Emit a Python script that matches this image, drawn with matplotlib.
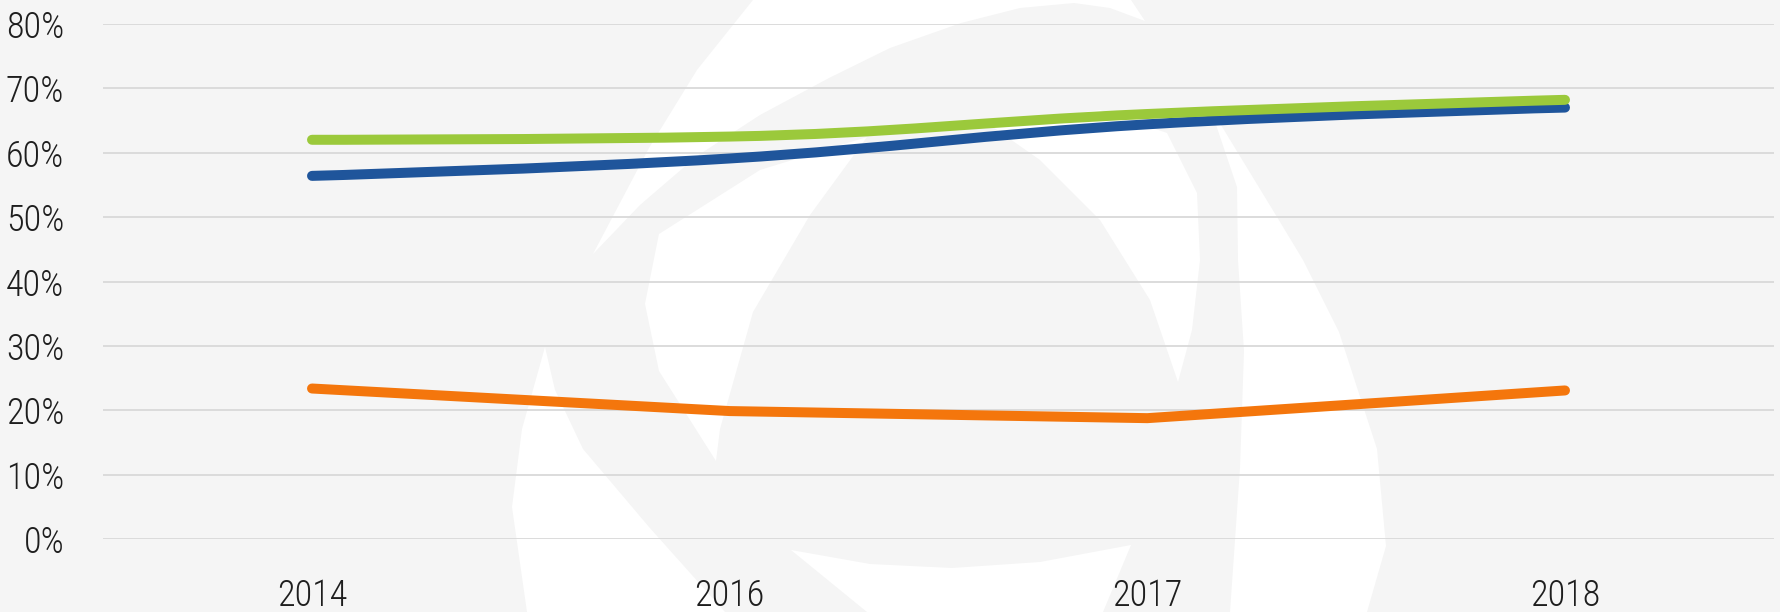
import matplotlib
matplotlib.use('Agg')
import matplotlib.pyplot as plt
from matplotlib.path import Path
from matplotlib.patches import PathPatch, Polygon
from matplotlib import font_manager
import numpy as np

years = ['2014', '2016', '2017', '2018']
green_vals = [62.0, 62.5, 66.0, 68.2]
blue_vals = [56.4, 59.1, 64.4, 67.0]
orange_vals = [23.4, 19.9, 18.8, 23.1]
y_ticks = [0, 10, 20, 30, 40, 50, 60, 70, 80]

BG = '#f5f5f5'

# white watermark blades, figure pixels (y down) of the 1781x612 canvas
WATERMARK = [
    [(753, 0), (1131, 0), (1145, 21), (1110, 8), (1074, 3), (1020, 8), (961, 23),
     (890, 48), (829, 78), (760, 115), (697, 156), (640, 205), (593, 254),
     (649, 148), (697, 70)],
    [(545, 347), (555, 390), (583, 449), (649, 527), (725, 612), (527, 612),
     (512, 507), (522, 429)],
    [(659, 234), (760, 170), (867, 137), (810, 215), (753, 312), (720, 429),
     (716, 461), (659, 371), (645, 304)],
    [(791, 550), (870, 564), (952, 568), (1040, 562), (1131, 545), (1103, 612),
     (867, 612)],
    [(1100, 110), (1167, 133), (1197, 193), (1200, 260), (1192, 330), (1178, 382),
     (1150, 300), (1100, 220), (1040, 160), (990, 125)],
    [(1210, 107), (1237, 187), (1238, 260), (1244, 351), (1240, 468), (1230, 612),
     (1367, 612), (1386, 546), (1377, 449), (1339, 332), (1303, 260), (1277, 217)],
]


def pick_condensed():
    # look for a narrow upright sans font file among the installed ones
    files = [f for f in font_manager.findSystemFonts() if 'Italic' not in f]
    for key in ['NotoSans-CondensedLight.', 'NotoSans-Condensed-Light.', 'OpenSansCondensed-Light.',
                'RobotoCondensed-Light.', 'LiberationSansNarrow-Regular.', 'RobotoCondensed-Regular.',
                'NotoSans-Condensed.', 'NotoSans-Condensed-Regular.', 'DejaVuSansCondensed.']:
        for f in files:
            if f.split('/')[-1].startswith(key):
                return font_manager.FontProperties(fname=f)
    return None


def spline_path(xs, ys, smoothing=1.5):
    # bezier control points like a highcharts "spline" series
    n = len(xs)
    denom = smoothing + 1
    left = [(xs[i], ys[i]) for i in range(n)]
    right = [(xs[i], ys[i]) for i in range(n)]
    for i in range(1, n - 1):
        lx = (smoothing * xs[i] + xs[i - 1]) / denom
        ly = (smoothing * ys[i] + ys[i - 1]) / denom
        rx = (smoothing * xs[i] + xs[i + 1]) / denom
        ry = (smoothing * ys[i] + ys[i + 1]) / denom
        corr = (ry - ly) * (rx - xs[i]) / (rx - lx) + ys[i] - ry
        ly += corr
        ry += corr
        if ly > ys[i - 1] and ly > ys[i]:
            ly = max(ys[i - 1], ys[i]); ry = 2 * ys[i] - ly
        elif ly < ys[i - 1] and ly < ys[i]:
            ly = min(ys[i - 1], ys[i]); ry = 2 * ys[i] - ly
        if ry > ys[i + 1] and ry > ys[i]:
            ry = max(ys[i + 1], ys[i]); ly = 2 * ys[i] - ry
        elif ry < ys[i + 1] and ry < ys[i]:
            ry = min(ys[i + 1], ys[i]); ly = 2 * ys[i] - ry
        left[i] = (lx, ly)
        right[i] = (rx, ry)
    verts = [(xs[0], ys[0])]
    codes = [Path.MOVETO]
    for i in range(1, n):
        verts += [right[i - 1], left[i], (xs[i], ys[i])]
        codes += [Path.CURVE4] * 3
    return Path(verts, codes)


fig = plt.figure(figsize=(17.81, 6.12), dpi=100, facecolor=BG)

for pts in WATERMARK:
    fpts = [(x / 1781, 1 - y / 612) for x, y in pts]
    fig.add_artist(Polygon(fpts, closed=True, transform=fig.transFigure,
                           facecolor='white', edgecolor='none', zorder=-5))

ax = fig.add_axes([103.2 / 1781, 1 - 539.3 / 612, (1773.8 - 103.2) / 1781, (539.3 - 23.8) / 612])
ax.set_facecolor('none')
x = np.arange(len(years))

for vals, color, z in [(blue_vals, '#1f559b', 3), (green_vals, '#9bc93b', 4)]:
    ax.add_patch(PathPatch(spline_path(list(x), vals), fill=False, edgecolor=color,
                           linewidth=7.2, capstyle='round', joinstyle='round', zorder=z))
ax.plot(x, orange_vals, color='#f4760c', linewidth=7.2, solid_capstyle='round',
        solid_joinstyle='round', zorder=3)

ax.set_xlim(-0.5, len(years) - 0.5)
ax.set_ylim(0, 80)
ax.set_yticks(y_ticks)
ax.set_yticklabels([f'{v}%' for v in y_ticks])
ax.set_xticks(x)
ax.set_xticklabels(years)
ax.yaxis.grid(True, color='#d9d9d9', linewidth=1.3)
ax.set_axisbelow(True)
for s in ax.spines.values():
    s.set_visible(False)
ax.tick_params(axis='both', length=0, labelcolor='#1e1e1e')
ax.tick_params(axis='y', pad=28)
ax.tick_params(axis='x', pad=28)

fp = pick_condensed()
for lab in ax.get_xticklabels() + ax.get_yticklabels():
    if fp is not None:
        lab.set_fontproperties(fp)
        lab.set_fontsize(26)
    else:
        lab.set_family(['Roboto', 'DejaVu Sans'])
        lab.set_fontsize(22)
        lab.set_fontweight('light')

fig.savefig('out.png', dpi=100, facecolor=BG)
